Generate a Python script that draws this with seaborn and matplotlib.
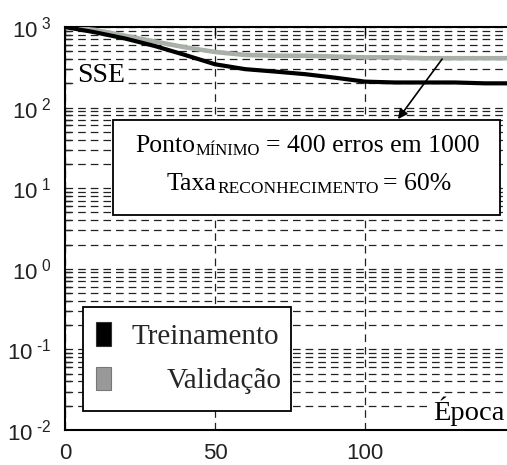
import matplotlib
matplotlib.use("Agg")
import matplotlib.pyplot as plt
import matplotlib.ticker as mticker
from matplotlib.patches import Rectangle
from matplotlib.transforms import IdentityTransform
import seaborn as sns
import pandas as pd
import numpy as np

# ---- data ----
epochs = [0, 10, 20, 30, 40, 50, 60, 70, 80, 90, 100, 110, 120, 130, 140, 150]
treinamento = [1000, 860, 720, 580, 450, 345, 300, 280, 260, 235, 210, 205, 205, 205, 200, 200]
validacao = [1000, 920, 780, 660, 560, 490, 450, 440, 440, 430, 420, 420, 410, 410, 410, 410]
series_names = ["Treinamento", "Validação"]
series_colors = ["#000000", "#a8b0a8"]
x_ticks = [0, 50, 100]
y_ticks = [1e-2, 1e-1, 1e0, 1e1, 1e2, 1e3]
y_exponents = [-2, -1, 0, 1, 2, 3]
arrow_point = (125.7, 400)
arrow_target = (111, 72)

df = pd.DataFrame({
    "Época": epochs * 2,
    "SSE": treinamento + validacao,
    "Série": [series_names[0]] * len(epochs) + [series_names[1]] * len(epochs),
})

sns.set_style("white")
plt.rcParams["font.family"] = ["Liberation Sans", "DejaVu Sans"]
plt.rcParams["mathtext.fontset"] = "custom"
plt.rcParams["mathtext.rm"] = "Liberation Sans"
plt.rcParams["mathtext.it"] = "Liberation Sans:italic"
plt.rcParams["mathtext.bf"] = "Liberation Sans:bold"
plt.rcParams["lines.scale_dashes"] = False

W, H = 507, 465
fig = plt.figure(figsize=(W / 100, H / 100), dpi=100)
ax_l, ax_r, ax_t, ax_b = 65, 65 + 450, 27, 430
ax = fig.add_axes([ax_l / W, 1 - ax_b / H, (ax_r - ax_l) / W, (ax_b - ax_t) / H])

sns.lineplot(data=df[df["Série"] == series_names[1]], x="Época", y="SSE", ax=ax,
             color=series_colors[1], linewidth=3.3, legend=False, zorder=3)
sns.lineplot(data=df[df["Série"] == series_names[0]], x="Época", y="SSE", ax=ax,
             color=series_colors[0], linewidth=3.0, legend=False, zorder=4)

ax.set_yscale("log")
ax.set_xlim(0, 150)
ax.set_ylim(1e-2, 1e3)
ax.set_xlabel("")
ax.set_ylabel("")

ax.set_xticks(x_ticks)
ax.set_xticklabels([str(v) for v in x_ticks])
ax.set_yticks(y_ticks)


def exp_label(e):
    if e < 0:
        return r"$\mathregular{10^{\ \text{-}%d}}$" % abs(e)
    return r"$\mathregular{10^{\ %d}}$" % e


ax.set_yticklabels([exp_label(e) for e in y_exponents])
ax.yaxis.set_minor_locator(mticker.LogLocator(base=10, subs=np.arange(2, 10), numticks=20))
ax.yaxis.set_minor_formatter(mticker.NullFormatter())

ax.tick_params(axis="both", which="major", direction="in", length=6, width=1,
               labelsize=16, top=True, right=True, color="black")
ax.tick_params(axis="y", which="minor", direction="in", length=4, width=1, right=True, left=True)
ax.tick_params(axis="y", which="major", pad=10)
ax.tick_params(axis="x", which="major", pad=9)
for lab in ax.get_xticklabels() + ax.get_yticklabels():
    lab.set_color("#222222")

dash = (0, (5.5, 3.6))
ax.grid(True, which="major", axis="both", color="#222222", linestyle=dash, linewidth=0.9)
ax.grid(True, which="minor", axis="y", color="#222222", linestyle=dash, linewidth=0.9)
ax.set_axisbelow(True)

for s in ax.spines.values():
    s.set_color("black")
    s.set_linewidth(1.5)

serif = ["Liberation Serif", "DejaVu Serif"]
ident = IdentityTransform()

# SSE label and Época label (white background masks the grid)
fig.text(77, H - 82, "SSE", transform=ident, fontfamily=serif, fontsize=20,
         ha="left", va="baseline", color="black", zorder=5,
         bbox=dict(facecolor="white", edgecolor="none", pad=0.5))
fig.text(433, H - 420, "Época", transform=ident, fontfamily=serif, fontsize=20.5,
         ha="left", va="baseline", color="black", zorder=5,
         bbox=dict(facecolor="white", edgecolor="none", pad=0.5))


def ax_frac_x(px):
    return (px - ax_l) / (ax_r - ax_l)


def ax_frac_y(py):
    return (ax_b - py) / (ax_b - ax_t)


# annotation box
box = Rectangle((ax_frac_x(113), ax_frac_y(215)), ax_frac_x(500) - ax_frac_x(113),
                ax_frac_y(120) - ax_frac_y(215), transform=ax.transAxes,
                facecolor="white", edgecolor="black", linewidth=1.3, zorder=6)
ax.add_patch(box)

renderer = fig.canvas.get_renderer()


def draw_runs(x0, base_top, runs):
    x = x0
    for s, size, dy, gap in runs:
        x += gap
        t = fig.text(x, H - (base_top + dy), s, transform=ident, fontfamily=serif,
                     fontsize=size, ha="left", va="baseline", color="black", zorder=7)
        bb = t.get_window_extent(renderer)
        x = bb.x1


draw_runs(135, 152, [("Ponto", 18.5, 0, 0), ("MÍNIMO", 12, 3, 0.5),
                     ("= 400 erros em 1000", 18.5, 0, 6)])
draw_runs(167, 190, [("Taxa", 18.5, 0, 0), ("RECONHECIMENTO", 12.5, 3, 0.5),
                     ("= 60%", 18.5, 0, 4)])

ax.annotate("", xy=arrow_target, xytext=arrow_point,
            arrowprops=dict(arrowstyle="-|>", color="black", lw=1.2, mutation_scale=14,
                            shrinkA=0, shrinkB=0),
            zorder=8)

# legend box
leg = Rectangle((ax_frac_x(83), ax_frac_y(411)), ax_frac_x(291) - ax_frac_x(83),
                ax_frac_y(307) - ax_frac_y(411), transform=ax.transAxes,
                facecolor="white", edgecolor="black", linewidth=1.3, zorder=6)
ax.add_patch(leg)
ax.add_patch(Rectangle((ax_frac_x(96), ax_frac_y(346)), ax_frac_x(111) - ax_frac_x(96),
                       ax_frac_y(322) - ax_frac_y(346), transform=ax.transAxes,
                       facecolor=series_colors[0], edgecolor="#333333", linewidth=0.8, zorder=7))
ax.add_patch(Rectangle((ax_frac_x(96), ax_frac_y(390)), ax_frac_x(111) - ax_frac_x(96),
                       ax_frac_y(367) - ax_frac_y(390), transform=ax.transAxes,
                       facecolor="#999999", edgecolor="#777777", linewidth=0.8, zorder=7))
fig.text(131, H - 344, series_names[0], transform=ident, fontfamily=serif, fontsize=21,
         ha="left", va="baseline", zorder=8)
fig.text(282, H - 388, series_names[1], transform=ident, fontfamily=serif, fontsize=21,
         ha="right", va="baseline", zorder=8)

fig.savefig("out.png", dpi=100)
